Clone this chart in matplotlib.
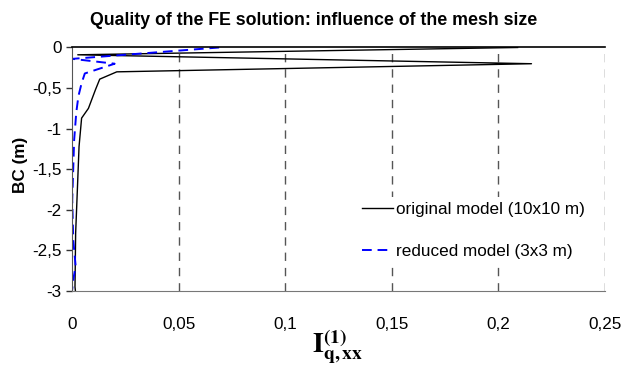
import matplotlib
matplotlib.use("Agg")
import matplotlib.pyplot as plt

plt.rcParams['font.family'] = ['Liberation Sans', 'DejaVu Sans']

# original model (10x10 m): I_q,xx vs depth BC
orig_x = [0.209, 0.0027, 0.2155, 0.021, 0.013, 0.011, 0.0077, 0.0045,
          0.0033, 0.0025, 0.0017, 0.0014, 0.0016]
orig_y = [0.0, -0.09, -0.2, -0.3, -0.39, -0.52, -0.75, -0.87,
          -1.22, -1.76, -2.29, -2.95, -3.0]

# reduced model (3x3 m)
red_x = [0.069, 0.0002, 0.020, 0.006, 0.0045, 0.003, 0.002, 0.001,
         0.0001, 0.0006, 0.0017, 0.0006, 0.0]
red_y = [0.0, -0.14, -0.2, -0.32, -0.44, -0.6, -0.8, -1.14,
         -1.88, -2.38, -2.69, -2.86, -3.0]

xticks = [0, 0.05, 0.1, 0.15, 0.2, 0.25]
xlabels = ['0', '0,05', '0,1', '0,15', '0,2', '0,25']
yticks = [0, -0.5, -1, -1.5, -2, -2.5, -3]
ylabels = ['0', '-0,5', '-1', '-1,5', '-2', '-2,5', '-3']

fig = plt.figure(figsize=(6.24, 3.71), dpi=100)
ax = fig.add_axes([0.1154, 0.2156, 0.8542, 0.6564])

ax.plot(orig_x, orig_y, color='black', lw=1.0, label='original model (10x10 m)')
ax.plot(red_x, red_y, color='blue', lw=1.4, ls=(0, (5, 3)), label='reduced model (3x3 m)')

ax.set_xlim(0, 0.25)
ax.set_ylim(-3, 0)
ax.set_xticks(xticks)
ax.set_xticklabels(xlabels, fontsize=12.3)
ax.set_yticks(yticks)
ax.set_yticklabels(ylabels, fontsize=12.3)
ax.tick_params(axis='x', length=0, pad=19)
ax.tick_params(axis='y', length=4.5, width=1, color='#333333', pad=3)

for v in xticks[1:]:
    ax.axvline(v, color='#555555', lw=1, ls=(0, (6, 5)), zorder=0)

ax.spines['right'].set_visible(False)
ax.spines['top'].set_color('black')
ax.spines['top'].set_linewidth(1.2)
ax.spines['left'].set_color('#555555')
ax.spines['bottom'].set_color('#777777')

ax.set_ylabel('BC (m)', fontsize=12.3, fontweight='bold', labelpad=0)
ax.yaxis.set_label_coords(-0.083, 0.52)

fig.text(0.502, 0.945, 'Quality of the FE solution: influence of the mesh size',
         ha='center', va='center', fontsize=12.8, fontweight='bold')

fig.text(0.54, 0.065, r'$\mathbf{I}_{\mathbf{q,xx}}^{\mathbf{(1)}}$',
         ha='center', va='center', fontsize=20,
         math_fontfamily='stix')

leg = ax.legend(loc='upper left', bbox_to_anchor=(0.535, 0.385), frameon=True,
                fontsize=12.3, labelspacing=1.55, handlelength=1.8,
                handletextpad=0.2, borderaxespad=0, borderpad=0.3,
                fancybox=False)
leg.get_frame().set_edgecolor('none')
leg.get_frame().set_facecolor('white')
leg.get_frame().set_alpha(1)

fig.savefig('out.png', dpi=100)
